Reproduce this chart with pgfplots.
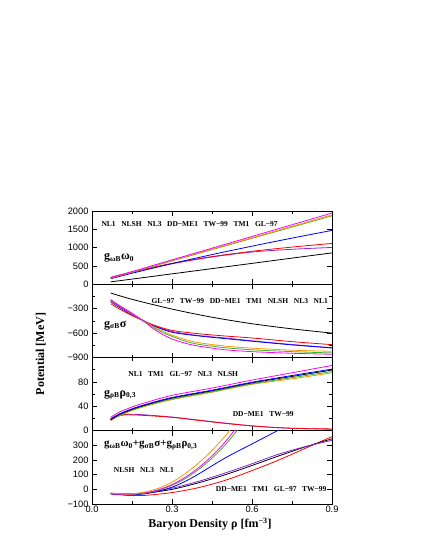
\documentclass[border=0pt]{standalone}
\usepackage{fontspec}
\setmainfont{Liberation Serif}
\newfontfamily\sans{Liberation Sans}
\usepackage{pgfplots}
\pgfplotsset{compat=1.18}
\definecolor{cmag}{RGB}{255,0,255}
\definecolor{corg}{RGB}{255,150,0}
\definecolor{cgrn}{RGB}{60,180,40}
\definecolor{cblu}{RGB}{0,0,255}
\definecolor{cred}{RGB}{255,0,0}
\definecolor{cpur}{RGB}{140,40,210}

\pgfplotsset{
  pan/.style={scale only axis, width=240pt, height=73.25pt, anchor=north west,
    xmin=0, xmax=0.9, xtick={0,0.3,0.6,0.9}, minor xtick={0.15,0.45,0.75},
    xticklabels={}, major tick length=5pt, minor tick length=3pt,
    tick style={black, line width=0.6pt}, axis line style={line width=0.8pt},
    ticklabel style={font=\sans\fontsize{9.3}{10}\selectfont},
    xticklabel style={yshift=1.5pt},
    every axis plot/.append style={line width=0.8pt, smooth, no marks}},
}
\tikzset{
  lab/.style={font=\bfseries\fontsize{7.5}{8}\selectfont, inner sep=0pt},
  glab/.style={font=\bfseries\fontsize{12}{13}\selectfont, inner sep=0pt, anchor=west},
}
\newcommand{\sub}[1]{\textsubscript{\fontsize{7.5}{8}\selectfont #1}}
\newcommand{\gap}{\hspace{0.75em}}

\begin{document}
\begin{tikzpicture}
\path[use as bounding box] (0,0) rectangle (425pt,-550pt);

% panel 1: vector potential
\begin{axis}[pan, at={(92pt,-211pt)}, ymin=0, ymax=2000,
  ytick={0,500,1000,1500,2000}, yticklabels={0,500,1000,1500,2000}]
\addplot[black] coordinates {(0.07,65)(0.15,141)(0.3,284)(0.45,427)(0.6,570)(0.75,714)(0.9,857)};
\addplot[cpur] coordinates {(0.07,175)(0.15,325)(0.3,560)(0.45,745)(0.6,880)(0.75,955)(0.9,1005)};
\addplot[cred] coordinates {(0.07,190)(0.15,335)(0.3,570)(0.45,755)(0.6,900)(0.75,1015)(0.9,1115)};
\addplot[cblu] coordinates {(0.07,150)(0.15,300)(0.3,565)(0.45,810)(0.6,1040)(0.75,1260)(0.9,1470)};
\addplot[cgrn] coordinates {(0.07,165)(0.15,329)(0.3,637)(0.45,945)(0.6,1254)(0.75,1562)(0.9,1870)};
\addplot[corg] coordinates {(0.07,170)(0.15,336)(0.3,648)(0.45,960)(0.6,1271)(0.75,1583)(0.9,1895)};
\addplot[cmag] coordinates {(0.07,175)(0.15,345)(0.3,666)(0.45,985)(0.6,1305)(0.75,1625)(0.9,1945)};
\node[lab] at (axis cs:0.366,1644) {NL1\gap NLSH\gap NL3\gap DD−ME1\gap TW−99\gap TM1\gap GL−97};
\node[glab] at (axis cs:0.045,730) {g\sub{ωB}ω\sub{0}};
\end{axis}

% panel 2: scalar potential
\begin{axis}[pan, at={(92pt,-284.25pt)}, ymin=-900, ymax=0,
  ytick={-300,-600,-900}, yticklabels={−300,−600,−900}, minor ytick={-150,-450,-750}]
\addplot[black] coordinates {(0.07,-107)(0.15,-185)(0.3,-305)(0.45,-405)(0.6,-485)(0.75,-548)(0.9,-600)};
\addplot[cpur] coordinates {(0.07,-189)(0.1,-255)(0.15,-355)(0.19,-440)(0.23,-505)(0.3,-580)(0.4,-630)(0.5,-660)(0.6,-695)(0.75,-740)(0.9,-780)};
\addplot[cblu] coordinates {(0.07,-214)(0.1,-280)(0.15,-375)(0.19,-444)(0.23,-510)(0.3,-590)(0.4,-635)(0.5,-668)(0.6,-700)(0.75,-745)(0.9,-783)};
\addplot[cred] coordinates {(0.07,-238)(0.1,-300)(0.15,-385)(0.19,-444)(0.23,-500)(0.3,-567)(0.4,-608)(0.5,-636)(0.6,-660)(0.75,-705)(0.9,-742)};
\addplot[corg] coordinates {(0.07,-205)(0.1,-268)(0.15,-365)(0.19,-444)(0.23,-520)(0.27,-585)(0.3,-625)(0.35,-680)(0.4,-718)(0.5,-760)(0.6,-785)(0.75,-810)(0.9,-824)};
\addplot[cgrn] coordinates {(0.07,-200)(0.1,-265)(0.15,-365)(0.19,-444)(0.23,-530)(0.27,-600)(0.3,-640)(0.35,-700)(0.4,-738)(0.5,-780)(0.6,-805)(0.75,-828)(0.9,-844)};
\addplot[cmag] coordinates {(0.07,-197)(0.1,-262)(0.15,-365)(0.19,-444)(0.23,-547)(0.27,-625)(0.3,-672)(0.35,-725)(0.4,-760)(0.5,-805)(0.6,-828)(0.75,-848)(0.9,-860)};
\node[lab] at (axis cs:0.554,-210) {GL−97\gap TW−99\gap DD−ME1\gap TM1\gap NLSH\gap NL3\gap NL1};
\node[glab] at (axis cs:0.045,-505) {g\sub{σB}σ};
\end{axis}

% panel 3: isovector potential
\begin{axis}[pan, at={(92pt,-357.5pt)}, ymin=0, ymax=120,
  ytick={0,40,80}, yticklabels={0,40,80}, minor ytick={20,60,100}]
\addplot[cpur] coordinates {(0.07,20)(0.09,24)(0.12,26.5)(0.15,27)(0.2,26)(0.3,22.5)(0.4,17.5)(0.5,12.5)(0.6,8)(0.7,5)(0.8,3.5)(0.9,2.5)};
\addplot[cred] coordinates {(0.07,19)(0.09,23)(0.12,26)(0.15,26)(0.2,25)(0.3,22)(0.4,17)(0.5,12)(0.6,8)(0.7,5)(0.8,3.5)(0.9,3)};
\addplot[corg] coordinates {(0.07,16)(0.1,24)(0.15,33)(0.2,40)(0.3,51)(0.45,63)(0.6,76)(0.75,85)(0.9,95)};
\addplot[cgrn] coordinates {(0.07,17)(0.1,25)(0.15,34)(0.2,41)(0.3,52)(0.45,64)(0.6,77)(0.75,87)(0.9,97)};
\addplot[black] coordinates {(0.07,18)(0.1,26)(0.15,35)(0.2,42)(0.3,53.5)(0.45,65.5)(0.6,78.5)(0.75,89)(0.9,99.5)};
\addplot[cblu] coordinates {(0.07,19)(0.1,27)(0.15,36)(0.2,43)(0.3,54.5)(0.45,66.5)(0.6,79.5)(0.75,90.5)(0.9,101)};
\addplot[cmag] coordinates {(0.07,22)(0.1,30)(0.15,39)(0.2,46)(0.3,58)(0.45,70)(0.6,83)(0.75,95)(0.9,107)};
\node[lab] at (axis cs:0.342,93.5) {NL1\gap TM1\gap GL−97\gap NL3\gap NLSH};
\node[lab] at (axis cs:0.642,27) {DD−ME1\gap TW−99};
\node[glab] at (axis cs:0.045,59) {g\sub{ρB}ρ\sub{0,3}};
\end{axis}

% panel 4: total
\begin{axis}[pan, at={(92pt,-430.75pt)}, ymin=-100, ymax=400,
  ytick={-100,0,100,200,300}, yticklabels={−100,0,100,200,300},
  xticklabels={0.0,0.3,0.6,0.9}]
\addplot[cred] coordinates {(0.07,-30)(0.12,-40)(0.15,-42)(0.2,-41)(0.3,-22)(0.4,12)(0.5,62)(0.6,128)(0.7,200)(0.8,280)(0.9,360)};
\addplot[black] coordinates {(0.07,-28)(0.12,-33)(0.15,-33)(0.2,-27)(0.3,0)(0.4,45)(0.5,100)(0.6,163)(0.7,228)(0.8,290)(0.9,345)};
\addplot[cpur] coordinates {(0.07,-26)(0.12,-30)(0.15,-30)(0.2,-22)(0.3,8)(0.4,55)(0.5,112)(0.6,175)(0.7,240)(0.8,292)(0.9,335)};
\addplot[cblu] coordinates {(0.07,-32)(0.15,-37)(0.2,-30)(0.25,-12)(0.3,15)(0.35,55)(0.4,105)(0.5,215)(0.6,310)(0.7,405)(0.75,455)};
\addplot[cgrn] coordinates {(0.07,-27)(0.12,-33)(0.15,-34)(0.2,-26)(0.25,-6)(0.3,27)(0.35,73)(0.4,136)(0.45,212)(0.5,305)(0.55,415)(0.6,540)};
\addplot[cmag] coordinates {(0.07,-30)(0.12,-34)(0.15,-33)(0.2,-24)(0.25,-2)(0.3,33)(0.35,83)(0.4,148)(0.45,228)(0.5,325)(0.55,440)(0.58,510)};
\addplot[corg] coordinates {(0.07,-25)(0.12,-32)(0.15,-31)(0.2,-18)(0.25,8)(0.3,50)(0.35,108)(0.4,180)(0.45,265)(0.5,365)(0.55,480)};
\node[lab] at (axis cs:0.195,130) {NLSH\gap NL3\gap NL1};
\node[lab] at (axis cs:0.672,2) {DD−ME1\gap TM1\gap GL−97\gap TW−99};
\node[glab, font=\bfseries\fontsize{11}{12}\selectfont] at (axis cs:0.045,302) {g\sub{ωB}ω\sub{0}+g\sub{σB}σ+g\sub{ρB}ρ\sub{0,3}};
\end{axis}

\node[rotate=90, font=\bfseries\fontsize{12}{13}\selectfont] at (40.7pt,-354pt) {Potential [MeV]};
\node[font=\bfseries\fontsize{12}{13}\selectfont] at (210pt,-524pt) {Baryon Density ρ [fm\textsuperscript{−3}]};
\end{tikzpicture}
\end{document}
